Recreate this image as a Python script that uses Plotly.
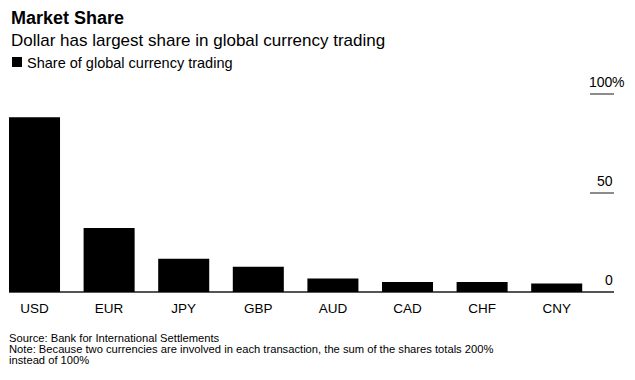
import plotly.graph_objects as go

categories = ["USD", "EUR", "JPY", "GBP", "AUD", "CAD", "CHF", "CNY"]
share = [88.3, 32.3, 16.8, 12.8, 6.8, 5.0, 5.0, 4.3]
series_name = "Share of global currency trading"
y_ticks = [0, 50, 100]
y_tick_labels = ["0", "50", "100"]

FONT = "Liberation Sans, Arial, sans-serif"
W, H = 635, 380
L, R, T, B = 9, 21, 92, 88
plot_h = H - T - B

def py(px):
    return (H - B - px) / plot_h

def px_(x):
    return (x - L) / (W - L - R)

fig = go.Figure()
fig.add_trace(go.Bar(
    x=categories, y=share, name=series_name,
    marker=dict(color="#000000", line=dict(width=0)),
    showlegend=False, hoverinfo="skip",
))

def note(text, x, y, size, bold=False):
    return dict(text=f"<b>{text}</b>" if bold else text, x=px_(x), y=py(y),
                xref="paper", yref="paper", xanchor="left", yanchor="middle",
                showarrow=False, font=dict(size=size, color="#000000", family=FONT))

annotations = [
    note("Market Share", 9, 18, 18, bold=True),
    note("Dollar has largest share in global currency trading", 9, 40, 17),
    note(series_name, 25, 63, 14.5),
    note("Source: Bank for International Settlements", 7, 338, 11.2),
    note("Note: Because two currencies are involved in each transaction, the sum of the shares totals 200%",
         7, 349, 11.2),
    note("instead of 100%", 7, 360, 11.2),
]
for v, lab in zip(y_ticks, y_tick_labels):
    annotations.append(dict(text=lab, x=1, y=v, xref="paper", yref="y", xanchor="right",
                            yanchor="middle", yshift=12, showarrow=False, borderpad=0,
                            font=dict(size=14, color="#000000", family=FONT)))
annotations.append(dict(text="%", x=1, y=y_ticks[-1], xref="paper", yref="y", xanchor="left",
                        yanchor="middle", yshift=12, xshift=-3, showarrow=False, borderpad=0,
                        font=dict(size=14, color="#000000", family=FONT)))

# legend key square
shapes = [dict(type="rect", xref="paper", yref="paper",
               x0=px_(12), x1=px_(22), y0=py(67), y1=py(57),
               fillcolor="#000000", line=dict(width=0))]

fig.update_layout(
    width=W, height=H,
    margin=dict(l=L, r=R, t=T, b=B, autoexpand=False),
    paper_bgcolor="#ffffff", plot_bgcolor="#ffffff",
    bargap=0.316,
    font=dict(family=FONT, color="#000000"),
    showlegend=False,
    annotations=annotations,
    shapes=shapes,
    xaxis=dict(range=[-0.342, 7.768], showgrid=False, zeroline=False, showline=False,
               ticks="", ticklabelstandoff=6,
               tickfont=dict(size=13.5, color="#000000", family=FONT),
               fixedrange=True),
    yaxis=dict(range=[0, 101], side="right", showgrid=False, zeroline=True,
               zerolinecolor="#555555", zerolinewidth=1.5,
               showline=False, ticks="inside", ticklen=24, tickcolor="#8c8c8c", tickwidth=1.5,
               tickvals=y_ticks, showticklabels=False, fixedrange=True),
)

fig.write_html("out.html", config={"displayModeBar": False},
               post_script="document.body.style.margin='0';document.body.style.overflow='hidden';")
